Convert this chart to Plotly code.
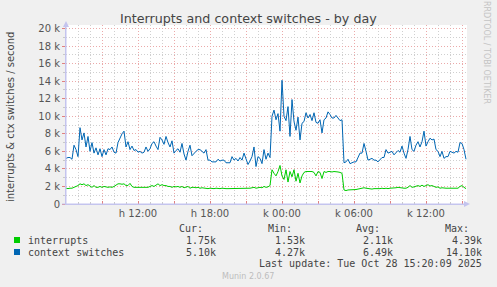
import plotly.graph_objects as go
import pandas as pd

# ---------------- data (values in thousands, 10-minute steps from Mon 27 Oct 06:00) ----------------
interrupts_k = [
    1.8,1.75,1.8,1.8,1.9,2.0,2.1,2.3,2.2,2.3, 2.1,2.2,2.0,1.9,2.1,1.9,1.9,2.0,1.9,2.0,
    1.95,1.9,1.95,1.9,2.0,2.2,2.3,2.3,2.25,2.3, 2.1,2.1,2.35,2.0,1.9,1.9,1.9,1.85,1.9,1.9,
    1.9,1.9,2.0,2.1,2.0,2.2,2.3,2.1,2.2,2.1, 2.1,2.0,2.0,1.9,2.0,1.95,2.0,1.9,2.0,1.85,
    1.9,2.0,1.8,1.9,1.9,1.85,1.9,1.8,1.85,1.8, 1.75,1.75,1.8,1.75,1.75,1.8,1.75,1.75,1.8,1.75,
    1.75,1.75,1.75,1.75,1.8,1.8,1.75,1.8,1.8,1.75, 1.8,1.75,1.8,1.85,1.9,1.8,1.85,1.9,1.85,2.0,
    1.9,1.95,2.1, 3.9,3.5,3.2,3.7,4.39,3.2,2.8,3.9,2.5,3.7, 3.1,3.9,2.6,3.5,2.4,3.2,3.6,
    3.7,3.7,3.65,3.7,3.6,3.2,3.7,3.6,2.9,3.7, 3.6,3.7,3.7,3.65,3.7,3.7,3.65,3.6,3.5,
    1.6,1.53,1.6,1.6,1.65,1.6,1.65,1.7,1.75,1.8, 1.85,1.8,1.75,1.75,1.7,1.75,1.75,1.7,1.75,1.8,1.75,
    1.8,1.75,1.8,1.8,1.8,1.85,1.9,1.85,1.8,1.8, 1.8,1.9,2.1,1.9,1.95,2.0,2.1,2.0,2.15,2.0,
    2.1,2.2,2.05,2.1,2.0,1.9,1.95,1.8,1.85,1.8, 1.8,1.8,1.8,1.8,1.85,1.8,1.8,2.0,2.1,1.9,1.75,
]
context_switches_k = [
    5.2,5.3,5.3,5.1,6.7,6.2,5.4,8.7,7.3,8.1, 6.5,7.7,6.0,7.0,5.8,6.4,5.6,6.3,5.4,6.2,
    5.6,6.3,6.2,6.5,5.9,5.8,7.0,7.6,8.0,8.3, 6.5,7.1,6.2,6.6,6.1,6.2,5.9,6.0,5.8,5.9,
    6.5,6.0,6.3,6.9,7.1,6.6,6.2,7.6,7.3,6.8, 7.7,7.0,6.5,7.2,5.8,6.1,6.3,5.9,6.9,5.7,
    5.0,6.0,6.7,5.5,5.8,6.0,6.2,6.2,6.0,5.8, 6.2,5.0,5.0,4.8,4.8,4.8,5.1,4.9,5.0,5.0,
    4.7,4.7,4.7,5.4,5.0,5.2,4.9,5.3,5.0,5.8, 5.0,4.5,4.9,5.4,6.5,4.27,5.4,5.2,4.6,6.2,
    5.1,5.8,5.3,10.0,10.7,9.6,10.3,8.3,14.1,10.0, 9.5,11.1,7.7,11.9,9.4,8.4,9.9,7.3,9.2,9.4,
    10.4,9.8,10.2,9.5,10.4,9.3,9.2,9.6,8.1,9.6, 9.8,10.5,10.2,9.8,9.8,10.1,9.8,9.5,9.6,4.7,
    4.8,5.1,4.6,4.7,4.8,4.8,5.3,5.8,5.8,6.9, 6.0,5.0,5.1,5.2,5.0,5.0,4.8,5.1,5.3,5.3,
    6.2,5.8,5.9,6.0,5.6,5.8,6.1,5.9,6.6,5.8, 5.2,6.2,7.7,6.2,6.0,6.7,7.1,6.5,7.1,8.3,
    6.6,7.1,7.5,7.3,7.4,6.2,6.0,5.4,6.0,5.2, 5.4,5.4,6.0,5.9,5.8,6.0,5.9,7.0,6.9,6.2,5.1,
]
series_names = ["interrupts", "context switches"]
series_colors = ["#00cc00", "#0066b3"]
cur_vals = ["1.75k", "5.10k"]
min_vals = ["1.53k", "4.27k"]
avg_vals = ["2.11k", "6.49k"]
max_vals = ["4.39k", "14.10k"]

y_tick_vals = [0, 2000, 4000, 6000, 8000, 10000, 12000, 14000, 16000, 18000, 20000]
y_tick_text = ["0", "2 k", "4 k", "6 k", "8 k", "10 k", "12 k", "14 k", "16 k", "18 k", "20 k"]

x_tick_vals = ["2025-10-27 09:00", "2025-10-27 12:00", "2025-10-27 15:00", "2025-10-27 18:00",
               "2025-10-27 21:00", "2025-10-28 00:00", "2025-10-28 03:00", "2025-10-28 06:00",
               "2025-10-28 09:00", "2025-10-28 12:00", "2025-10-28 15:00"]
x_tick_text = ["", "h 12:00", "", "h 18:00", "", "k 00:00", "", "k 06:00", "", "k 12:00", ""]

start = "2025-10-27 06:00"
times = pd.date_range(start, periods=len(context_switches_k), freq="10min")
x_range = ["2025-10-27 06:00", "2025-10-28 15:25"]

# ---------------- layout geometry (pixels) ----------------
W, H = 497, 287
L, R, T, B = 66, 467, 25, 204

def px(x):
    return (x - L) / (R - L)

def py(y):
    return (B - y) / (B - T)

fig = go.Figure()
for name, vals, col in zip(series_names, [interrupts_k, context_switches_k], series_colors):
    fig.add_trace(go.Scatter(x=times, y=[v * 1000 for v in vals], mode="lines", name=name,
                             line=dict(color=col, width=1), showlegend=False, hoverinfo="skip"))

MAJ = "#eba9a9"
MIN = "#cfcfcf"
AX = "#c4c4ee"
DASH = "1px,2px"
fig.update_layout(
    width=W, height=H,
    margin=dict(l=L, r=W - R, t=T, b=H - B, pad=0),
    paper_bgcolor="#f0f0f0", plot_bgcolor="#ffffff",
    font=dict(family="DejaVu Sans", size=10, color="#555555"),
    xaxis=dict(range=x_range, tickmode="array", tickvals=x_tick_vals, ticktext=x_tick_text,
               showgrid=True, gridcolor=MAJ, griddash=DASH, gridwidth=1,
               showline=True, linecolor=AX, linewidth=1,
               ticks="inside", ticklen=3, tickcolor="#e08080",
               minor=dict(dtick=3600000, tick0=start, showgrid=True, gridcolor=MIN, griddash=DASH,
                          ticks="inside", ticklen=2, tickcolor="#c8c8c8"),
               tickfont=dict(size=10, color="#555555"), zeroline=False, fixedrange=True),
    yaxis=dict(range=[0, 20400], tickmode="array", tickvals=y_tick_vals, ticktext=y_tick_text,
               showgrid=True, gridcolor=MAJ, griddash=DASH, gridwidth=1,
               showline=True, linecolor=AX, linewidth=1,
               ticks="outside", ticklen=3, tickcolor="#e08080",
               minor=dict(dtick=1000, showgrid=True, gridcolor=MIN, griddash=DASH,
                          ticks="outside", ticklen=2, tickcolor="#c8c8c8"),
               tickfont=dict(size=10, color="#555555"), zeroline=False, fixedrange=True),
)

ann = []
def text(x, y, s, size=10, color="#333333", family="DejaVu Sans", xanchor="center", angle=0):
    ann.append(dict(x=px(x), y=py(y), xref="paper", yref="paper", text=s, showarrow=False,
                    xanchor=xanchor, yanchor="middle", textangle=angle,
                    font=dict(size=size, color=color, family=family)))

text(248, 19, "Interrupts and context switches - by day", size=12.7, color="#444444")
text(10, 117, "interrupts & ctx switches / second", size=10, color="#444444", angle=-90)
text(487, 52, "RRDTOOL / TOBI OETIKER", size=8, color="#c4c4c4", angle=90)
text(248, 276, "Munin 2.0.67", size=8, color="#bdbdbd")

MONO = "DejaVu Sans Mono"
TXT = "#444444"
for s, xr in zip(["Cur:", "Min:", "Avg:", "Max:"], [204, 293, 381, 470]):
    text(xr + 1, 228, s, family=MONO, color=TXT, xanchor="right")
rows_y = [240, 252]
shapes = []
for i, nm in enumerate(series_names):
    yy = rows_y[i]
    text(26, yy, nm, family=MONO, color=TXT, xanchor="left")
    for vals, xr in zip([cur_vals, min_vals, avg_vals, max_vals], [217, 305.7, 394, 482.7]):
        text(xr + 1, yy, vals[i], family=MONO, color=TXT, xanchor="right")
    shapes.append(dict(type="rect", xref="paper", yref="paper",
                       x0=px(14), x1=px(20), y0=py(yy + 3), y1=py(yy - 3),
                       fillcolor=series_colors[i], line=dict(width=0)))
text(483.5, 263.5, "Last update: Tue Oct 28 15:20:09 2025", family=MONO, color=TXT, xanchor="right")

# axis arrows
shapes.append(dict(type="path", xref="paper", yref="paper",
                   path=f"M {px(464)} {py(201)} L {px(470)} {py(204)} L {px(464)} {py(207)} Z",
                   fillcolor=AX, line=dict(width=0)))
shapes.append(dict(type="path", xref="paper", yref="paper",
                   path=f"M {px(63)} {py(27)} L {px(66)} {py(21)} L {px(69)} {py(27)} Z",
                   fillcolor=AX, line=dict(width=0)))
shapes.append(dict(type="line", xref="paper", yref="paper", x0=px(66), x1=px(66), y0=py(204), y1=py(24),
                   line=dict(color=AX, width=1)))
shapes.append(dict(type="line", xref="paper", yref="paper", x0=px(62), x1=px(468), y0=py(204), y1=py(204),
                   line=dict(color=AX, width=1)))
fig.update_layout(annotations=ann, shapes=shapes)

fig.write_html("out.html", config={"displayModeBar": False})
